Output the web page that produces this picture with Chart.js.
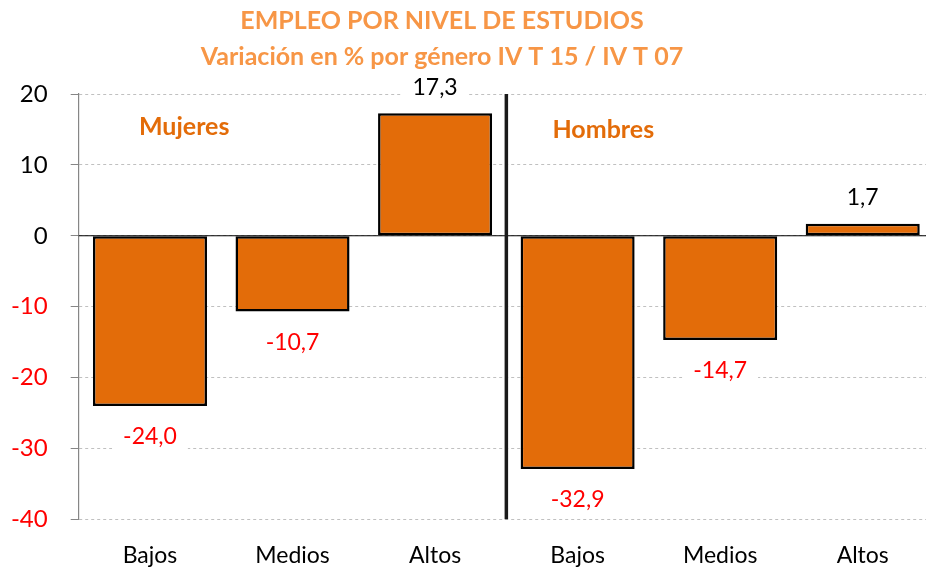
<!DOCTYPE html>
<html>
<head>
<meta charset="utf-8">
<script src="https://cdn.jsdelivr.net/npm/chart.js@4/dist/chart.umd.min.js"></script>
<style>
  html, body { margin: 0; padding: 0; background: #fff; overflow: hidden; }
  #wrap { width: 940px; height: 568px; }
</style>
</head>
<body>
<div id="wrap"><canvas id="empleoChart" width="940" height="568"></canvas></div>
<script>
// ===== 資料 =====
const categorias = ["Bajos", "Medios", "Altos", "Bajos", "Medios", "Altos"];
const variacion = [-24.0, -10.7, 17.3, -32.9, -14.7, 1.7];
const grupos = ["Mujeres", "Hombres"];
const grupoPos = [[0.24, 15.3], [3.18, 15.0]];   // posición (índice, valor) de cada rótulo
const titulo = ["EMPLEO POR NIVEL DE ESTUDIOS", "Variación en % por género IV T 15 / IV T 07"];
const yMin = -40, yMax = 20, yStep = 10;

const FONT = "Lato, 'Open Sans', sans-serif";
const NARANJA = "#E36C09";

function fmt(v) {
  return v.toFixed(1).replace(".", ",");
}

// ===== 外掛：標題、零線、分隔線、數值標籤 =====
const decoPlugin = {
  id: "deco",
  beforeDatasetsDraw(chart) {
    const { ctx, chartArea, scales } = chart;
    const y0 = scales.y.getPixelForValue(0);
    ctx.save();
    ctx.strokeStyle = "#000";
    ctx.lineWidth = 1.2;
    ctx.beginPath();
    ctx.moveTo(chartArea.left, y0);
    ctx.lineTo(chartArea.right, y0);
    ctx.stroke();
    ctx.restore();
  },
  afterDatasetsDraw(chart) {
    const { ctx, chartArea, scales } = chart;
    const x = scales.x, y = scales.y;
    ctx.save();

    // título
    ctx.fillStyle = "#F79646";
    ctx.font = "bold 25px " + FONT;
    ctx.textAlign = "center";
    ctx.textBaseline = "middle";
    ctx.fillText(titulo[0], 442, 21);
    ctx.fillText(titulo[1], 442, 57);

    // línea separadora entre grupos
    const xs = (x.getPixelForValue(2) + x.getPixelForValue(3)) / 2;
    ctx.strokeStyle = "#1a1a1a";
    ctx.lineWidth = 3.5;
    ctx.beginPath();
    ctx.moveTo(xs, chartArea.top);
    ctx.lineTo(xs, chartArea.bottom);
    ctx.stroke();

    // rótulos Mujeres / Hombres
    ctx.fillStyle = NARANJA;
    ctx.font = "bold 25px " + FONT;
    grupos.forEach((g, i) => {
      ctx.fillText(g, x.getPixelForValue(grupoPos[i][0]), y.getPixelForValue(grupoPos[i][1]));
    });

    // etiquetas de datos
    ctx.font = "23px " + FONT;
    const meta = chart.getDatasetMeta(0);
    meta.data.forEach((bar, i) => {
      const v = variacion[i];
      const txt = fmt(v);
      const ly = v >= 0 ? bar.y - 26 : bar.y + 31;
      const w = ctx.measureText(txt).width + 22;
      ctx.fillStyle = "#fff";
      ctx.fillRect(bar.x - w / 2, ly - 13, w, 26);
      ctx.fillStyle = v >= 0 ? "#000" : "#FF0000";
      ctx.fillText(txt, bar.x, ly);
    });
    ctx.restore();
  }
};

// ===== 圖表 =====
const ctx = document.getElementById("empleoChart").getContext("2d");
const chart = new Chart(ctx, {
  type: "bar",
  data: {
    labels: categorias,
    datasets: [{
      data: variacion,
      backgroundColor: NARANJA,
      borderColor: "#000",
      borderWidth: 2.5,
      borderSkipped: false,
      barPercentage: 0.8,
      categoryPercentage: 1.0
    }]
  },
  options: {
    responsive: false,
    animation: false,
    layout: { padding: { top: 94, right: 6, left: 0, bottom: 0 } },
    plugins: {
      legend: { display: false },
      title: { display: false },
      tooltip: { enabled: false }
    },
    scales: {
      x: {
        grid: { display: false },
        border: { display: false },
        ticks: {
          color: "#000",
          padding: 14,
          font: { family: FONT, size: 23 }
        },
        afterFit(scale) { scale.height = 48.7; }
      },
      y: {
        min: yMin,
        max: yMax,
        ticks: {
          stepSize: yStep,
          padding: 23,
          color: (c) => (c.tick && c.tick.value < 0 ? "#FF0000" : "#000"),
          font: { family: FONT, size: 24 }
        },
        grid: {
          color: "#C0C0C0",
          lineWidth: 1,
          tickLength: 8,
          tickColor: "#868686",
          tickBorderDash: []
        },
        border: { display: true, color: "#868686", width: 1.2, dash: [3, 3] },
        afterFit(scale) { scale.width = 78.7; }
      }
    }
  },
  plugins: [decoPlugin]
});
</script>
</body>
</html>
